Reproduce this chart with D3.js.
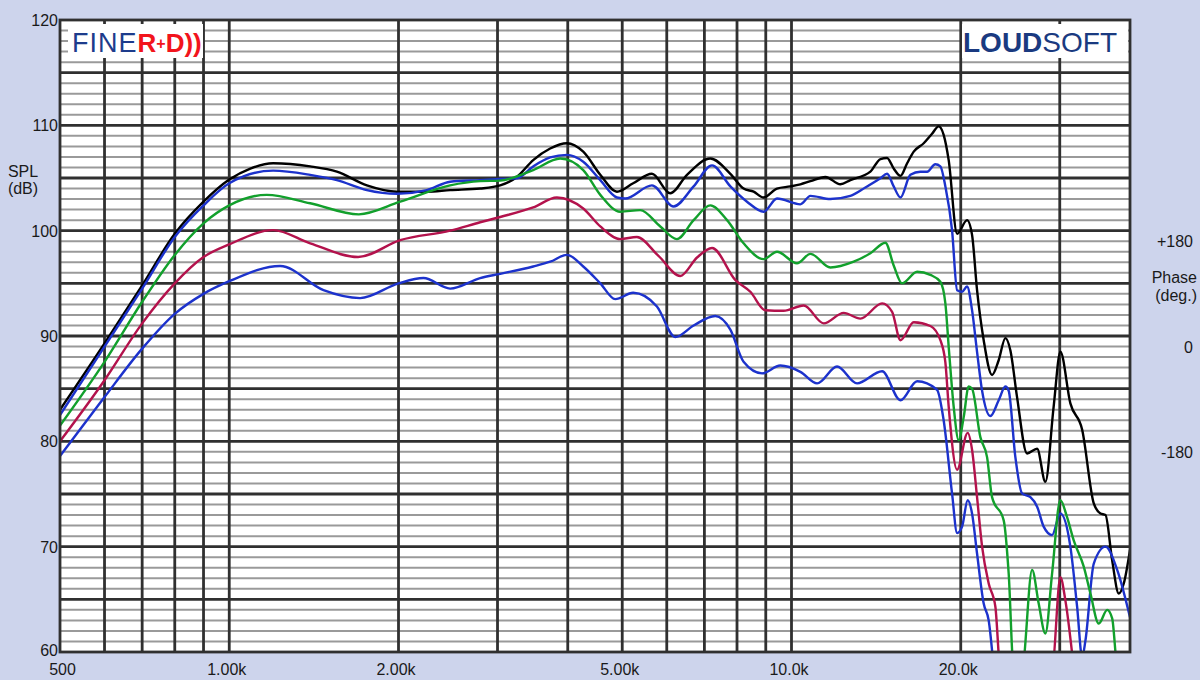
<!DOCTYPE html>
<html>
<head>
<meta charset="utf-8">
<script src="https://cdn.jsdelivr.net/npm/d3@7"></script>
<style>
  html, body { margin: 0; padding: 0; background: #cdd4ec; }
  svg { display: block; }
  text { font-family: "Liberation Sans", Arial, sans-serif; }
</style>
</head>
<body>
<svg id="chart" width="1200" height="680"></svg>
<script>
// ---------------- data ----------------
const freqTicks = [500, 1000, 2000, 5000, 10000, 20000];
const freqTickLabels = ["500", "1.00k", "2.00k", "5.00k", "10.0k", "20.0k"];
const freqGrid = [600, 700, 800, 900, 1000, 2000, 3000, 4000, 5000, 6000, 7000, 8000, 9000, 10000, 20000, 30000];
const dbTicks = [60, 70, 80, 90, 100, 110, 120];
const phaseTicks = [180, 0, -180];
const phaseTickLabels = ["+180", "0", "-180"];

const seriesNames = ["black", "blueTop", "green", "red", "blueBottom"];
const seriesColors = ["#000000", "#1c32cc", "#12a02c", "#b3124c", "#1c32cc"];

const black = [
  [500, 83.0], [600, 89.3], [700, 94.8], [800, 99.7], [900, 102.75], [1000, 104.85], [1090, 105.9],
  [1197, 106.4], [1393, 106.1], [1554, 105.6], [1757, 104.3], [1987, 103.7], [2246, 103.7],
  [2471, 103.85], [2794, 104.0], [3033, 104.3], [3248, 105.1], [3472, 106.7], [3722, 107.8],
  [3986, 108.3], [4262, 107.5], [4570, 105.3], [4893, 103.7], [5229, 104.5], [5647, 105.4],
  [6086, 103.55], [6518, 105.3], [7172, 106.85], [7785, 105.4], [8218, 104.0], [8564, 103.7],
  [8922, 103.15], [9424, 104.0], [9949, 104.2], [10370, 104.4], [10806, 104.7], [11490, 105.1],
  [12217, 104.4], [12727, 104.8], [13814, 105.6], [14394, 106.8], [14791, 106.9], [15197, 105.9],
  [15622, 105.2], [16057, 106.4], [16497, 107.5], [17187, 108.3], [17782, 109.2], [18270, 109.9],
  [18648, 109.1], [19036, 106.7], [19704, 99.7], [20524, 101.0], [20948, 99.6], [21381, 94.35],
  [21970, 89.6], [22736, 86.3], [23362, 87.7], [24010, 89.8], [24505, 88.65], [25187, 84.2],
  [26241, 78.85], [27345, 79.3], [28286, 76.15], [29260, 83.3], [30075, 88.5], [31333, 83.6],
  [32885, 81.1], [34485, 74.1], [35443, 73.15], [36179, 73.0], [37183, 68.7], [38207, 65.55],
  [38991, 66.5], [40000, 69.7]
];

const blueTop = [
  [500, 82.5], [600, 89.0], [700, 94.5], [800, 99.4], [900, 102.4], [1000, 104.5], [1197, 105.7],
  [1393, 105.3], [1554, 104.8], [1757, 103.85], [1987, 103.5], [2246, 103.85], [2471, 104.65],
  [2794, 104.8], [3033, 104.9], [3248, 104.97], [3472, 106.1], [3722, 106.95], [3986, 107.2],
  [4262, 106.55], [4570, 104.8], [4893, 103.15], [5061, 103.05], [5647, 104.3], [6170, 102.3],
  [6698, 104.2], [7222, 106.2], [7785, 104.2], [8334, 102.75], [8922, 101.8], [9424, 103.05],
  [10370, 102.5], [10806, 103.3], [11727, 103.0], [12727, 103.3], [13534, 104.1], [14394, 104.97],
  [14791, 105.4], [15197, 104.2], [15622, 103.15], [16275, 105.3], [16953, 105.6], [17427, 105.6],
  [18023, 106.3], [18398, 106.1], [18779, 104.2], [19300, 100.05], [19704, 94.35], [20111, 94.2],
  [20524, 94.7], [20948, 92.45], [21381, 88.5], [21827, 84.8], [22579, 82.4], [23362, 83.9],
  [24010, 85.2], [24338, 84.8], [25013, 78.5], [25708, 75.05], [26603, 74.7], [27345, 73.8],
  [28088, 71.9], [29072, 71.1], [30075, 73.15], [31333, 70.0], [32210, 64.3], [32885, 59.5],
  [33330, 61.1], [34485, 68.4], [36179, 70.0], [37955, 67.8], [40000, 63.3]
];

const green = [
  [500, 81.5], [600, 87.55], [700, 93.25], [800, 97.7], [900, 100.7], [1000, 102.4], [1166, 103.4],
  [1393, 102.6], [1700, 101.55], [2014, 102.75], [2471, 104.3], [2794, 104.7], [3033, 104.75],
  [3472, 105.75], [3878, 106.85], [4262, 105.75], [4570, 103.4], [4959, 101.8], [5381, 101.95],
  [5843, 100.4], [6255, 99.2], [6698, 101.0], [7172, 102.4], [7680, 101.0], [8218, 98.8],
  [8922, 97.3], [9424, 98.0], [10228, 96.9], [10806, 97.8], [11727, 96.5], [12900, 97.05],
  [13814, 97.85], [14689, 98.85], [15197, 96.7], [15730, 95.0], [16729, 96.1], [17660, 95.8],
  [18398, 95.15], [18779, 93.1], [19036, 89.0], [19429, 83.3], [19832, 80.1], [20243, 82.3],
  [20660, 85.2], [20948, 85.0], [21673, 80.4], [22276, 78.5], [22736, 74.7], [23846, 72.5],
  [24338, 67.45], [24841, 58.5], [25708, 58.5], [26788, 67.8], [27521, 64.6], [28286, 61.75],
  [29072, 67.45], [30075, 74.4], [30911, 72.8], [31765, 70.6], [33099, 68.1], [34019, 65.55],
  [35199, 62.7], [36430, 64.0], [37183, 63.2], [37955, 58.5], [40000, 56.0]
];

const red = [
  [500, 80.0], [600, 85.8], [700, 91.2], [800, 95.0], [900, 97.5], [1000, 98.7], [1197, 100.05],
  [1393, 98.8], [1695, 97.5], [2014, 99.1], [2471, 100.0], [2794, 100.8], [3033, 101.3],
  [3472, 102.2], [3826, 103.15], [4262, 102.1], [4570, 100.4], [4959, 99.2], [5309, 99.4],
  [5800, 97.6], [6342, 95.7], [6792, 97.45], [7222, 98.35], [7950, 95.3], [8449, 94.2],
  [8983, 92.45], [9682, 92.4], [10512, 92.9], [11411, 91.2], [12383, 92.2], [13259, 91.65],
  [14494, 93.1], [15099, 92.3], [15622, 89.6], [16497, 91.3], [17660, 90.95], [18398, 89.6],
  [18779, 87.5], [19036, 83.3], [19704, 77.3], [20575, 80.8], [20948, 79.2], [21381, 74.7],
  [21827, 70.0], [22425, 66.5], [23047, 64.3], [23523, 58.5], [29072, 58.5], [30075, 67.1],
  [30698, 64.9], [31765, 58.5]
];

const blueBottom = [
  [500, 78.6], [600, 84.2], [700, 88.8], [800, 92.1], [900, 94.0], [1000, 95.2], [1232, 96.65],
  [1471, 94.35], [1709, 93.6], [2000, 95.0], [2215, 95.5], [2471, 94.5], [2794, 95.5],
  [3033, 95.9], [3472, 96.6], [3722, 97.05], [3986, 97.7], [4262, 96.6], [4570, 95.0],
  [4858, 93.5], [5229, 94.1], [5763, 92.8], [6212, 89.9], [6698, 91.0], [7320, 91.9],
  [7785, 90.6], [8218, 87.55], [8865, 86.45], [9551, 87.2], [10370, 86.6], [11107, 85.5],
  [12052, 87.1], [13080, 85.5], [14494, 86.65], [15622, 83.9], [16729, 85.7], [18148, 84.9],
  [18648, 82.0], [19300, 75.05], [19704, 71.3], [20111, 71.9], [20575, 74.4], [20948, 73.15],
  [21381, 69.35], [21970, 64.6], [22425, 63.0], [22888, 58.5]
];

const seriesData = [black, blueTop, green, red, blueBottom];

// ---------------- chart ----------------
const svg = d3.select("#chart");
const W = 1200, H = 680;
const pLeft = 60, pRight = 1130, pTop = 20, pBottom = 652;

const x = d3.scaleLog().domain([500, 40000]).range([pLeft, pRight]);
const y = d3.scaleLinear().domain([60, 120]).range([pBottom, pTop]);
const yPhase = d3.scaleLinear().domain([-522, 558]).range([pBottom, pTop]);

svg.append("rect").attr("width", W).attr("height", H).attr("fill", "#cdd4ec");
svg.append("rect").attr("x", pLeft).attr("y", pTop).attr("width", pRight - pLeft).attr("height", pBottom - pTop).attr("fill", "#ffffff");

// horizontal grid: 1 dB grey, 5 dB dark
const minor = d3.range(61, 120).filter(d => d % 5 !== 0);
const major = d3.range(65, 120, 5);
svg.append("g").selectAll("line").data(minor).join("line")
  .attr("x1", pLeft).attr("x2", pRight)
  .attr("y1", d => y(d)).attr("y2", d => y(d))
  .attr("stroke", "#9a9a9a").attr("stroke-width", 2);
svg.append("g").selectAll("line").data(major).join("line")
  .attr("x1", pLeft).attr("x2", pRight)
  .attr("y1", d => y(d)).attr("y2", d => y(d))
  .attr("stroke", "#303030").attr("stroke-width", 2.8);
// vertical grid
svg.append("g").selectAll("line").data(freqGrid).join("line")
  .attr("x1", d => x(d)).attr("x2", d => x(d))
  .attr("y1", pTop).attr("y2", pBottom)
  .attr("stroke", "#303030").attr("stroke-width", 2.8);

// logo boxes
svg.append("rect").attr("x", 68).attr("y", 24).attr("width", 135).attr("height", 34).attr("fill", "#fff");
svg.append("rect").attr("x", 962).attr("y", 24).attr("width", 166).attr("height", 34).attr("fill", "#fff");

const fine = svg.append("text").attr("x", 72).attr("y", 52).attr("font-size", 27);
fine.append("tspan").text("FINE").attr("fill", "#1d3c8c").attr("letter-spacing", 1);
fine.append("tspan").text("R").attr("fill", "#f2141c").attr("font-weight", "bold").attr("font-size", 26);
fine.append("tspan").text("+").attr("fill", "#f2141c").attr("font-weight", "bold").attr("font-size", 16).attr("dy", -3);
fine.append("tspan").text("D))").attr("fill", "#f2141c").attr("font-weight", "bold").attr("font-size", 26).attr("dy", 3);

const loud = svg.append("text").attr("x", 963).attr("y", 52).attr("font-size", 28);
loud.append("tspan").text("LOUD").attr("fill", "#1a3a80").attr("font-weight", "bold");
loud.append("tspan").text("SOFT").attr("fill", "#1a3a80");

// curves
svg.append("defs").append("clipPath").attr("id", "plotclip")
  .append("rect").attr("x", pLeft).attr("y", pTop).attr("width", pRight - pLeft + 1).attr("height", pBottom - pTop);

const line = d3.line()
  .x(d => x(d[0]))
  .y(d => y(d[1]))
  .curve(d3.curveMonotoneX);

svg.append("g").attr("clip-path", "url(#plotclip)")
  .selectAll("path").data(seriesData).join("path")
  .attr("d", d => line(d))
  .attr("fill", "none")
  .attr("stroke", (d, i) => seriesColors[i])
  .attr("stroke-width", 2.4)
  .attr("stroke-linejoin", "round");

// border
svg.append("rect").attr("x", pLeft).attr("y", pTop).attr("width", pRight - pLeft).attr("height", pBottom - pTop)
  .attr("fill", "none").attr("stroke", "#303030").attr("stroke-width", 2.8);

// axes
const yAxis = d3.axisLeft(y).tickValues(dbTicks).tickSize(0).tickPadding(2).tickFormat(d3.format("d"));
const gy = svg.append("g").attr("transform", `translate(${pLeft},0)`).call(yAxis);
gy.select(".domain").remove();
gy.selectAll("text").attr("font-size", 16).attr("fill", "#1a1a1a")
  .attr("font-family", "'Liberation Sans', Arial, sans-serif").attr("dy", "0.35em");
gy.selectAll(".tick").filter(d => d === 60).select("text").attr("dy", "0.2em");

const xAxis = d3.axisBottom(x).tickValues(freqTicks).tickSize(0).tickPadding(0)
  .tickFormat((d, i) => freqTickLabels[i]);
const gx = svg.append("g").attr("transform", `translate(-3,${pBottom})`).call(xAxis);
gx.select(".domain").remove();
gx.selectAll("text").attr("font-size", 16).attr("fill", "#1a1a1a")
  .attr("font-family", "'Liberation Sans', Arial, sans-serif").attr("dy", "1.45em");
gx.selectAll(".tick").filter(d => d === 500).select("text").attr("dx", 5);

const yP = d3.axisRight(yPhase).tickValues(phaseTicks).tickSize(0).tickPadding(0)
  .tickFormat((d, i) => phaseTickLabels[i]);
const gp = svg.append("g").attr("transform", `translate(1193,0)`).call(yP);
gp.select(".domain").remove();
gp.selectAll("text").attr("font-size", 16).attr("fill", "#1a1a1a").attr("text-anchor", "end")
  .attr("font-family", "'Liberation Sans', Arial, sans-serif").attr("dy", "0.35em");

// axis titles
svg.append("text").attr("x", 23).attr("y", 177).attr("text-anchor", "middle").attr("font-size", 16).attr("fill", "#1a1a1a").text("SPL");
svg.append("text").attr("x", 23).attr("y", 194).attr("text-anchor", "middle").attr("font-size", 16).attr("fill", "#1a1a1a").text("(dB)");
svg.append("text").attr("x", 1197).attr("y", 283).attr("text-anchor", "end").attr("font-size", 16).attr("fill", "#1a1a1a").text("Phase");
svg.append("text").attr("x", 1197).attr("y", 301).attr("text-anchor", "end").attr("font-size", 16).attr("fill", "#1a1a1a").text("(deg.)");
</script>
</body>
</html>
